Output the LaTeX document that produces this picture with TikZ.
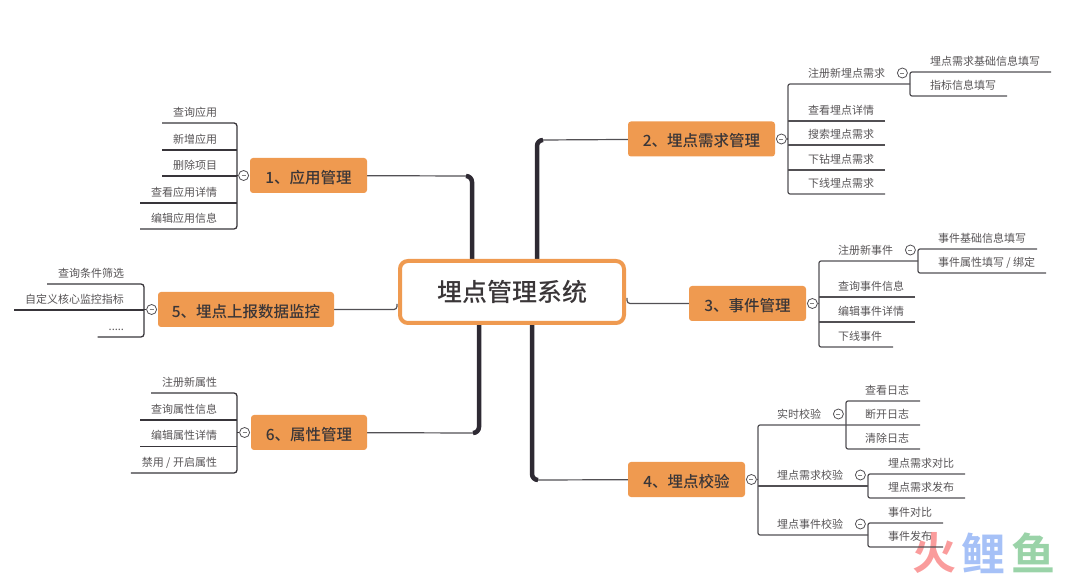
\documentclass[tikz,border=0pt]{standalone}
\usepackage{fontspec}
\setmainfont{Noto Sans CJK SC}
\newfontfamily\headfont{Noto Sans CJK SC Medium}
\newfontfamily\markfont{Noto Sans CJK SC Bold}
\usetikzlibrary{positioning, backgrounds}
\definecolor{mapink}{HTML}{3A3638}
\definecolor{maporange}{HTML}{EF9A50}
\definecolor{mapline}{HTML}{525054}
\definecolor{mapdark}{HTML}{38353A}
\definecolor{maptrunk}{HTML}{2E2A33}
\definecolor{markred}{HTML}{FA9C9C}
\definecolor{markblue}{HTML}{A6C1F7}
\definecolor{markgreen}{HTML}{9AD3A8}
\newcommand{\foldbar}{\textcolor{gray}{\rule{4pt}{.5pt}}}
\tikzset{
  root/.style={draw=maporange, line width=4pt, fill=white, rounded corners=8pt, minimum width=224pt, minimum height=62pt, inner sep=0pt, text=mapink, font=\headfont\fontsize{25}{25}\selectfont},
  topic/.style={fill=maporange, rounded corners=3pt, minimum height=35pt, inner sep=0pt, outer sep=0pt, text=mapink, text height=15.5pt, text depth=0pt, font=\headfont\fontsize{15.5}{16}\selectfont},
  leaf/.style={minimum height=22pt, inner xsep=11pt, inner ysep=0pt, outer sep=0pt, text=mapink!85, text height=9.7pt, text depth=1.3pt, font=\fontsize{11}{11}\selectfont},
  leafl/.style={leaf, anchor=south east},
  leafr/.style={leaf, anchor=south west},
  fold/.style={circle, draw=mapline, line width=.8pt, fill=white, minimum size=10pt, inner sep=0pt},
  twig/.style={draw=mapline, line width=1.2pt, rounded corners=2pt},
  twigl/.style={draw=mapdark, line width=1.3pt, rounded corners=3pt},
  limb/.style={draw=mapline, line width=1.2pt, rounded corners=3pt},
  trunk/.style={draw=maptrunk, line width=4.5pt, rounded corners=6pt},
  markch/.style={inner sep=0pt, font=\markfont\fontsize{44}{44}\selectfont}
}
\begin{document}
\begin{tikzpicture}[x=1pt, y=-1pt, node distance=1pt]
  \useasboundingbox (0,0) rectangle (1080,577);

  \node[root] (root) at (512,292) {埋点管理系统};

  % topics
  \node[topic, minimum width=117pt] (t1) at (308.5,175.5) {1、应用管理};
  \node[topic, minimum width=147pt] (t2) at (701.5,139) {2、埋点需求管理};
  \node[topic, minimum width=117pt] (t3) at (747.5,303.5) {3、事件管理};
  \node[topic, minimum width=117pt] (t4) at (686.5,479.5) {4、埋点校验};
  \node[topic, minimum width=176pt] (t5) at (246,309.5) {5、埋点上报数据监控};
  \node[topic, minimum width=116pt] (t6) at (309,432.5) {6、属性管理};

  % root to topics
  \coordinate (k1) at (472,176);
  \coordinate (j1) at (466,176);
  \coordinate (k2) at (537,140);
  \coordinate (j2) at (543,140);
  \coordinate (k4) at (532,480);
  \coordinate (j4) at (538,480);
  \coordinate (k6) at (479,433);
  \coordinate (j6) at (473,433);
  \coordinate (r3) at ([shift={(1,6)}]root.east);
  \coordinate (r5) at ([shift={(-1,12)}]root.west);
  \begin{scope}[on background layer]
    \node[markch, text=markred] (m1) at (934,553) {火};
    \node[markch, text=markblue] (m2) at (983,553) {鲤};
    \node[markch, text=markgreen] (m3) at (1033,553) {鱼};
    \draw[limb] (t1) -- (j1);
    \draw[limb] (t2) -- (j2);
    \draw[limb] (t4) -- (j4);
    \draw[limb] (t6) -- (j6);
    \draw[limb] (r3) |- (t3);
    \draw[limb] (t5) -| (r5);
    \draw[trunk] (j1) -| (root.north -| k1);
    \draw[trunk] (j2) -| (root.north -| k2);
    \draw[trunk] (j4) -| (root.south -| k4);
    \draw[trunk] (j6) -| (root.south -| k6);
  \end{scope}

  % 1
  \node[fold] (f1) [left=of t1] {\foldbar};
  \coordinate (s1) at (237,175.5);
  \node[leafl] (a1) at (228,123) {查询应用};
  \node[leafl] (a2) at (228,150) {新增应用};
  \node[leafl] (a3) at (228,176) {删除项目};
  \node[leafl] (a4) at (228,203) {查看应用详情};
  \node[leafl] (a5) at (228,229) {编辑应用信息};
  \draw[twigl] (a1.south west) -| (s1) |- (a5.south west);
  \path[twigl] (a2.south west) edge (a2.south west -| s1)
    (a3.south west) edge (a3.south west -| s1)
    (a4.south west) edge (a4.south west -| s1)
    (f1) edge (s1);

  % 5
  \node[fold] (f5) [left=of t5] {\foldbar};
  \coordinate (s5) at (144,309.5);
  \node[leafl] (e1) at (135,284) {查询条件筛选};
  \node[leafl] (e2) at (135,310) {自定义核心监控指标};
  \node[leafl] (e3) at (135,337) {.....};
  \draw[twigl] (e1.south west) -| (s5) |- (e3.south west);
  \path[twigl] (e2.south west) edge (e2.south west -| s5)
    (f5) edge (s5);

  % 6
  \node[fold] (f6) [left=of t6] {\foldbar};
  \coordinate (s6) at (237,432.5);
  \node[leafl] (g1) at (228,393) {注册新属性};
  \node[leafl] (g2) at (228,420) {查询属性信息};
  \node[leafl] (g3) at (228,446.5) {编辑属性详情};
  \node[leafl] (g4) at (228,473) {禁用 / 开启属性};
  \draw[twigl] (g1.south west) -| (s6) |- (g4.south west);
  \path[twigl] (g2.south west) edge (g2.south west -| s6)
    (g3.south west) edge (g3.south west -| s6)
    (f6) edge (s6);

  % 2
  \node[fold] (f2) [right=of t2] {\foldbar};
  \coordinate (s2) at (788,139);
  \node[leafr] (b1) at (797,84) {注册新埋点需求};
  \node[leafr] (b2) at (797,121) {查看埋点详情};
  \node[leafr] (b3) at (797,145) {搜索埋点需求};
  \node[leafr] (b4) at (797,170) {下钻埋点需求};
  \node[leafr] (b5) at (797,194) {下线埋点需求};
  \node[fold] (f21) [right=of b1] {\foldbar};
  \coordinate (s21) at (910,84);
  \node[leafr] (b11) at (919,72) {埋点需求基础信息填写};
  \node[leafr] (b12) at (919,96) {指标信息填写};
  \draw[twig] (s21) -| (s2) |- (b5.south east);
  \draw[twig] (b11.south east) -| (s21) |- (b12.south east);
  \path[twig] (b2.south east) edge (b2.south east -| s2)
    (b3.south east) edge (b3.south east -| s2)
    (b4.south east) edge (b4.south east -| s2)
    (f2) edge (s2);

  % 3
  \node[fold] (f3) [right=of t3] {\foldbar};
  \coordinate (s3) at (819,303.5);
  \node[leafr] (c1) at (827,261) {注册新事件};
  \node[leafr] (c2) at (827,297) {查询事件信息};
  \node[leafr] (c3) at (827,322) {编辑事件详情};
  \node[leafr] (c4) at (827,347) {下线事件};
  \node[fold] (f31) [right=of c1] {\foldbar};
  \coordinate (s31) at (918,261);
  \node[leafr] (c11) at (927,249) {事件基础信息填写};
  \node[leafr] (c12) at (927,273) {事件属性填写 / 绑定};
  \draw[twig] (s31) -| (s3) |- (c4.south east);
  \draw[twig] (c11.south east) -| (s31) |- (c12.south east);
  \path[twig] (c2.south east) edge (c2.south east -| s3)
    (c3.south east) edge (c3.south east -| s3)
    (f3) edge (s3);

  % 4
  \node[fold] (f4) [right=of t4] {\foldbar};
  \coordinate (s4) at (758,479.5);
  \node[leafr] (d1) at (766,425) {实时校验};
  \node[leafr] (d2) at (766,486) {埋点需求校验};
  \node[leafr] (d3) at (766,535) {埋点事件校验};
  \node[fold] (f41) [right=of d1] {\foldbar};
  \node[fold] (f42) [right=of d2] {\foldbar};
  \node[fold] (f43) [right=of d3] {\foldbar};
  \coordinate (s41) at (846,425);
  \coordinate (s42) at (868,486);
  \coordinate (s43) at (868,535);
  \node[leafr] (d11) at (854,401) {查看日志};
  \node[leafr] (d12) at (854,425) {断开日志};
  \node[leafr] (d13) at (854,449) {清除日志};
  \node[leafr] (d21) at (877,474) {埋点需求对比};
  \node[leafr] (d22) at (877,498) {埋点需求发布};
  \node[leafr] (d31) at (877,523) {事件对比};
  \node[leafr] (d32) at (877,547) {事件发布};
  \draw[twig] (d12.south east) -| (s4) |- (s43);
  \draw[twig] (d11.south east) -| (s41) |- (d13.south east);
  \draw[twig] (d21.south east) -| (s42) |- (d22.south east);
  \draw[twig] (d31.south east) -| (s43) |- (d32.south east);
  \path[twig] (s4 |- s42) edge (s42)
    (f4) edge (s4);
\end{tikzpicture}
\end{document}
